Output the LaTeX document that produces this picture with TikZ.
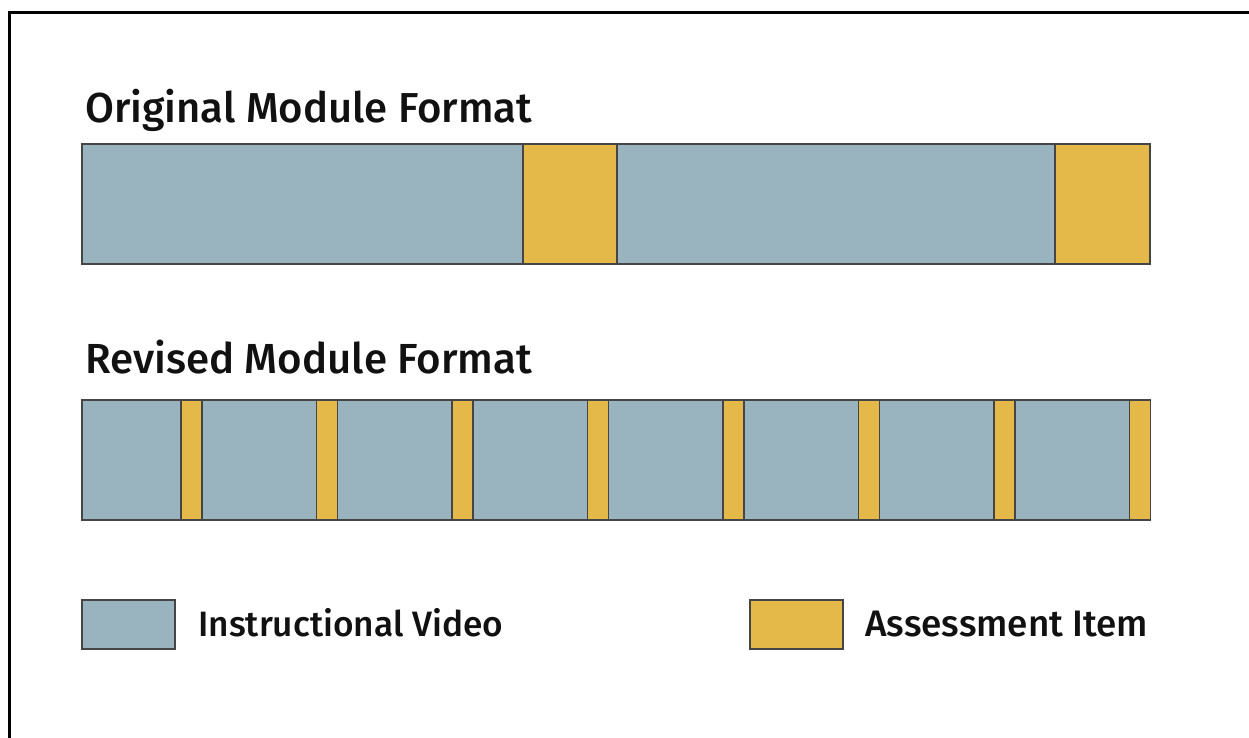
\documentclass[tikz,border=0pt]{standalone}
\usepackage{fontspec}
\setmainfont{Fira Sans Medium}
\definecolor{vidblue}{HTML}{99B4BF}
\definecolor{assyellow}{HTML}{E5B84A}
\definecolor{edgegray}{HTML}{454545}
\definecolor{inkblack}{HTML}{111111}
\tikzset{
  seg/.style={draw=edgegray, line width=1.5pt, inner sep=0pt, outer sep=0pt, anchor=north west},
  vid/.style={seg, fill=vidblue},
  ass/.style={seg, fill=assyellow},
  title/.style={anchor=base west, inner sep=0pt, text=inkblack},
  legtext/.style={anchor=base west, inner sep=0pt, text=inkblack}
}
\begin{document}
\begin{tikzpicture}[x=1pt,y=-1pt]
\useasboundingbox (0,0) rectangle (1249,738);
\begin{scope}
\clip (0,0) rectangle (1249,738);
\coordinate (fbl) at (9.5,745);
\coordinate (ftl) at (9.5,12.5);
\coordinate (ftr) at (1260,12.5);
\draw[line width=3pt, black] (fbl) -- (ftl) -- (ftr);
\end{scope}
% titles
\node[title] (t1) at (85,122.5) {\resizebox{447pt}{!}{\fontsize{38}{40}\selectfont Original Module Format}};
\node[title] (t2) at (85,373.3) {\resizebox{447pt}{!}{\fontsize{38}{40}\selectfont Revised Module Format}};
% original bar
\node[vid, minimum width=441pt, minimum height=120pt] (o1) at (82,144) {};
\node[ass, minimum width=94pt, minimum height=120pt] (o2) at (523,144) {};
\node[vid, minimum width=438pt, minimum height=120pt] (o3) at (617,144) {};
\node[ass, minimum width=95pt, minimum height=120pt] (o4) at (1055,144) {};
% revised bar
\node[vid, minimum width=99pt, minimum height=120pt] (r1) at (82,400) {};
\foreach \k in {0,...,6}{
  \pgfmathsetmacro{\xb}{202+135.5*\k}
  \node[vid, minimum width=114.5pt, minimum height=120pt] (b\k) at (\xb,400) {};
}
\foreach \k in {0,...,7}{
  \pgfmathsetmacro{\xa}{181+135.5*\k}
  \node[ass, minimum width=21pt, minimum height=120pt] (a\k) at (\xa,400) {};
}
% legend
\node[vid, minimum width=93pt, minimum height=49pt] (lv) at (82,600) {};
\node[legtext] (lvt) at (198,636) {\resizebox{305pt}{!}{\fontsize{34}{36}\selectfont Instructional Video}};
\node[ass, minimum width=93pt, minimum height=49pt] (la) at (750,600) {};
\node[legtext] (lat) at (865,636) {\resizebox{283pt}{!}{\fontsize{34}{36}\selectfont Assessment Item}};
\end{tikzpicture}
\end{document}
